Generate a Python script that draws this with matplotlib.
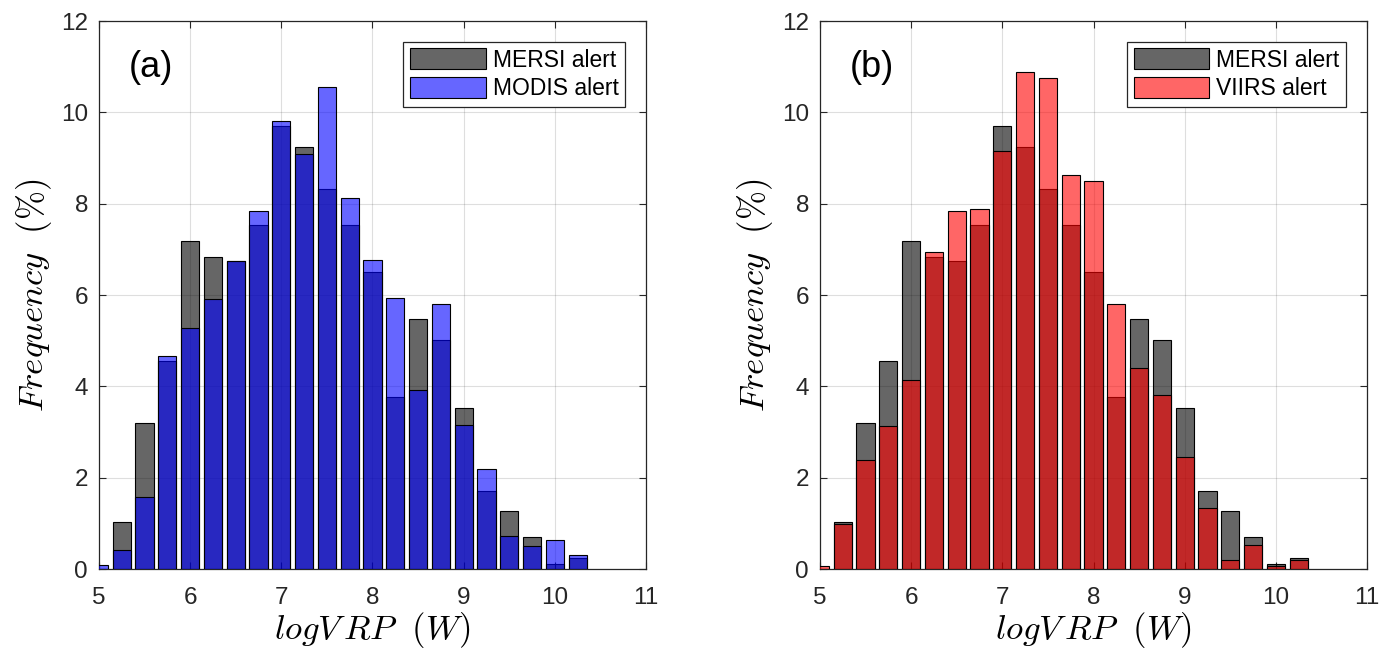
import numpy as np
import matplotlib
matplotlib.use("Agg")
import matplotlib.pyplot as plt

# ---- data: frequency (%) per logVRP bin (bin centres 5.0 ... 10.25, step 0.25) ----
bin_centers = [5.0, 5.25, 5.5, 5.75, 6.0, 6.25, 6.5, 6.75, 7.0, 7.25, 7.5,
               7.75, 8.0, 8.25, 8.5, 8.75, 9.0, 9.25, 9.5, 9.75, 10.0, 10.25]

mersi = [0.0, 1.02, 3.20, 4.56, 7.19, 6.84, 6.74, 7.53, 9.70, 9.25, 8.32,
         7.53, 6.50, 3.76, 5.47, 5.01, 3.53, 1.71, 1.26, 0.69, 0.10, 0.23]
modis = [0.09, 0.42, 1.57, 4.66, 5.28, 5.91, 6.75, 7.83, 9.82, 9.09, 10.56,
         8.13, 6.76, 5.93, 3.91, 5.81, 3.16, 2.20, 0.73, 0.51, 0.64, 0.31]
viirs = [0.07, 0.99, 2.39, 3.14, 4.14, 6.95, 7.83, 7.88, 9.16, 10.89, 10.75,
         8.62, 8.49, 5.80, 4.40, 3.80, 2.46, 1.33, 0.20, 0.53, 0.07, 0.19]

panels = [("(a)", modis, "MODIS alert", (0, 0, 1, 0.6)),
          ("(b)", viirs, "VIIRS alert", (1, 0, 0, 0.6))]

# ---- style -------------------------------------------------------------------
plt.rcParams.update({
    "font.family": ["Liberation Sans", "DejaVu Sans"],
    "font.size": 16.5,
    "mathtext.fontset": "cm",
    "axes.edgecolor": "#262626",
    "xtick.color": "#262626",
    "ytick.color": "#262626",
})

fig = plt.figure(figsize=(13.94, 6.53), dpi=100)
ax_w, ax_h = 547 / 1394, 548 / 653
ax_bottom = 84 / 653
lefts = [99 / 1394, 820 / 1394]

for left, (tag, other, other_name, other_col) in zip(lefts, panels):
    ax = fig.add_axes([left, ax_bottom, ax_w, ax_h])
    ax.bar(bin_centers, mersi, width=0.2, facecolor=(0, 0, 0, 0.6),
           edgecolor="black", linewidth=0.8, label="MERSI alert", zorder=2)
    ax.bar(bin_centers, other, width=0.2, facecolor=other_col,
           edgecolor="black", linewidth=0.8, label=other_name, zorder=3)

    ax.set_xlim(5, 11)
    ax.set_ylim(0, 12)
    ax.set_xticks(range(5, 12))
    ax.set_yticks(range(0, 13, 2))
    ax.grid(True, color="#262626", alpha=0.15, linewidth=0.8, zorder=0)
    ax.set_axisbelow(True)
    ax.tick_params(direction="in", length=5, width=0.8, top=True, right=True,
                   labelsize=17.5)
    ax.tick_params(axis="x", pad=13)
    ax.tick_params(axis="y", pad=8)
    for sp in ax.spines.values():
        sp.set_linewidth(0.9)

    ax.set_xlabel(r"$logV\,RP\ \ (W)$", fontsize=25, labelpad=1)
    ax.set_ylabel(r"$Frequency\ \ (\%)$", fontsize=25, labelpad=5)

    ax.text(0.055, 0.915, tag, transform=ax.transAxes, fontsize=26,
            ha="left", va="center")
    leg = ax.legend(loc="upper right", fontsize=16.5, fancybox=False,
                    framealpha=1, edgecolor="#262626", handlelength=3.3,
                    handleheight=1.0, handletextpad=0.3, borderpad=0.3,
                    labelspacing=0.25, borderaxespad=0.9)
    leg.get_frame().set_linewidth(0.9)

fig.savefig("out.png", dpi=100)
